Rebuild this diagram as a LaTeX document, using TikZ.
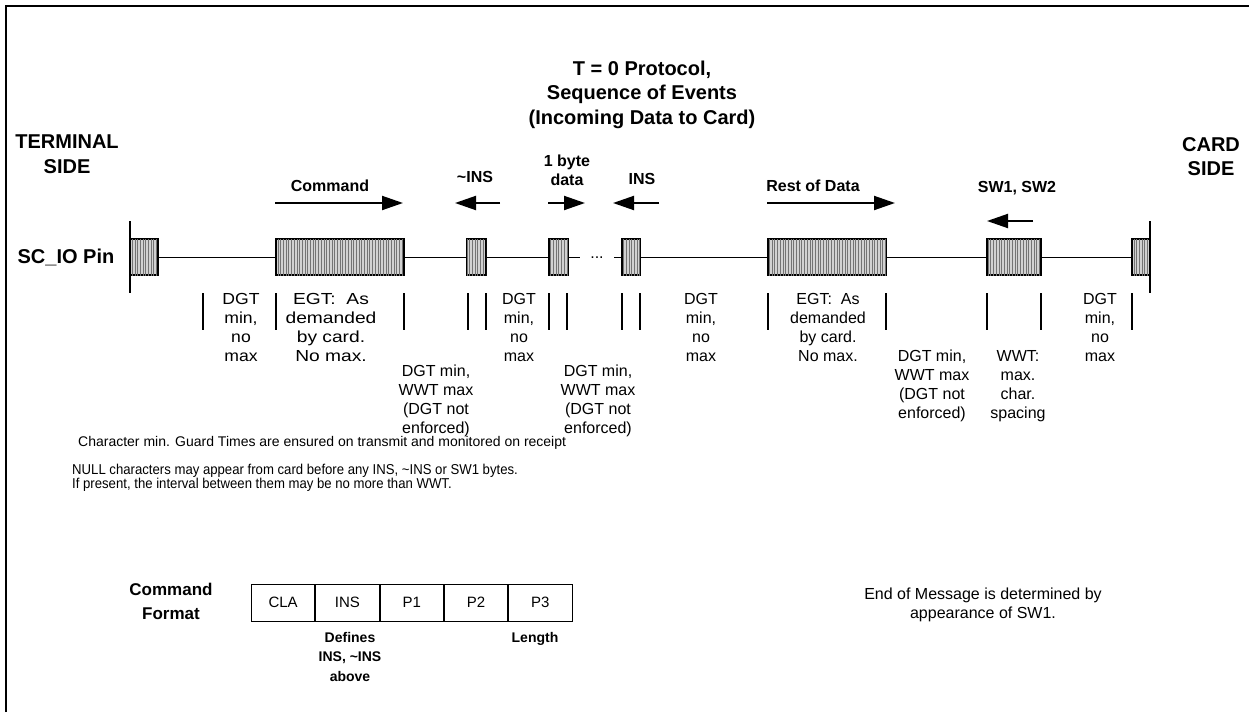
\documentclass[tikz,border=0pt]{standalone}
\usepackage{fontspec}
\setmainfont{Liberation Sans}
\newfontfamily\wideA[FakeStretch=1.2]{Liberation Sans}
\newfontfamily\wideB[FakeStretch=1.1]{Liberation Sans}
\newfontfamily\narrowC[FakeStretch=0.92]{Liberation Sans}
\usetikzlibrary{arrows.meta,patterns.meta}
\tikzset{
  bytebox/.style={draw=black, line width=1.1pt, rectangle, inner sep=0pt,
    minimum height=36pt, fill=black!18,
    postaction={pattern={Lines[angle=90,distance=2.7pt,line width=0.9pt]}, pattern color=black!55}},
  wire/.style={line width=1pt},
  tick/.style={line width=1.2pt},
  dirarrow/.style={line width=2pt, -{Triangle[length=21pt,width=14pt]}},
  timing/.style={font=\fontsize{16}{19}\selectfont, align=center, inner sep=0pt, anchor=north},
  boldlbl/.style={font=\bfseries\fontsize{16}{18.3}\selectfont, align=center, inner sep=0pt},
  sidelbl/.style={font=\bfseries\fontsize{20}{24.5}\selectfont, align=center, inner sep=0pt, anchor=north},
  cell/.style={draw=black, line width=0.9pt, minimum width=63.4pt, minimum height=37pt,
    inner sep=0pt, anchor=west, font=\fontsize{15}{18}\selectfont},
  note/.style={inner sep=0pt, align=left},
}
\begin{document}
\begin{tikzpicture}[x=1pt,y=-1pt]
\fill[white] (0,0) rectangle (1249,712);
\useasboundingbox (0,0) rectangle (1249,712);
% frame
\draw[line width=2pt] (6,712) -- (6,5.7) -- (1249,5.7);

% title and sides
\node[sidelbl] (title) at (642,60.7) {T = 0 Protocol,\\Sequence of Events\\(Incoming Data to Card)};
\node[sidelbl] (term) at (67,135) {TERMINAL\\SIDE};
\node[sidelbl] (card) at (1211,137) {CARD\\SIDE};
\node[font=\bfseries\fontsize{20}{24}\selectfont, inner sep=0pt, anchor=base] (pin) at (66,263) {SC\_IO Pin};

% byte boxes
\node[bytebox, minimum width=28pt] (b0) at (144,257) {};
\node[bytebox, minimum width=128pt] (b1) at (340,257) {};
\node[bytebox, minimum width=19pt] (b2) at (476.5,257) {};
\node[bytebox, minimum width=19pt] (b3) at (558.5,257) {};
\node[bytebox, minimum width=18pt] (b4) at (631,257) {};
\node[bytebox, minimum width=118pt] (b5) at (827,257) {};
\node[bytebox, minimum width=54pt] (b6) at (1014,257) {};
\node[bytebox, minimum width=18pt] (b7) at (1141,257) {};

% wire
\coordinate (w3e) at (580,257);
\coordinate (w4s) at (614,257);
\node[font=\fontsize{16}{19}\selectfont, inner sep=0pt, anchor=base] (dots) at (597,258.5) {...};
\draw[wire] (b0.east) -- (b1.west);
\draw[wire] (b1.east) -- (b2.west);
\draw[wire] (b2.east) -- (b3.west);
\draw[wire] (b3.east) -- (w3e);
\draw[wire] (w4s) -- (b4.west);
\draw[wire] (b4.east) -- (b5.west);
\draw[wire] (b5.east) -- (b6.west);
\draw[wire] (b6.east) -- (b7.west);

% end lines
\coordinate (lt) at (130,221); \coordinate (lb) at (130,293);
\coordinate (rt) at (1150,221); \coordinate (rb) at (1150,293);
\draw[tick] (lt) -- (lb);
\draw[tick] (rt) -- (rb);

% ticks
\foreach \x in {203,276,404,468,486,549,567,622,640,768,886,987,1041,1132}
  \draw[tick] (\x,293) -- (\x,330);

% direction arrows
\coordinate (cmdS) at (275,203); \coordinate (cmdE) at (403,203);
\coordinate (ninsS) at (500,203); \coordinate (ninsE) at (455,203);
\coordinate (byteS) at (548,203); \coordinate (byteE) at (585,203);
\coordinate (insS) at (659,203); \coordinate (insE) at (613,203);
\coordinate (restS) at (767,203); \coordinate (restE) at (895,203);
\coordinate (swS) at (1033,221); \coordinate (swE) at (987,221);
\draw[dirarrow] (cmdS) -- (cmdE);
\draw[dirarrow] (ninsS) -- (ninsE);
\draw[dirarrow] (byteS) -- (byteE);
\draw[dirarrow] (insS) -- (insE);
\draw[dirarrow] (restS) -- (restE);
\draw[dirarrow] (swS) -- (swE);

% arrow labels
\node[boldlbl, anchor=base] (cmd) at (330,191.5) {Command};
\node[boldlbl, anchor=base] (ninsl) at (475,182.5) {\textasciitilde INS};
\node[boldlbl, anchor=north] (bytel) at (567,155) {1 byte\\data};
\node[boldlbl, anchor=base] (insl) at (642,184.5) {INS};
\node[boldlbl, anchor=base] (restl) at (813,191.5) {Rest of Data};
\node[boldlbl, anchor=base] (swl) at (1017,192) {SW1, SW2};

% timing labels
\node[timing, font=\wideB\fontsize{16}{19}\selectfont] (t1) at (241,293) {DGT\\min,\\no\\max};
\node[timing, font=\wideA\fontsize{16}{19}\selectfont] (t2) at (331,293) {EGT:\ \ As\\demanded\\by card.\\No max.};
\node[timing] (t3) at (436,365) {DGT min,\\WWT max\\(DGT not\\enforced)};
\node[timing] (t4) at (519,293) {DGT\\min,\\no\\max};
\node[timing] (t5) at (598,365) {DGT min,\\WWT max\\(DGT not\\enforced)};
\node[timing] (t6) at (701,293) {DGT\\min,\\no\\max};
\node[timing] (t7) at (828,293) {EGT:\ \ As\\demanded\\by card.\\No max.};
\node[timing] (t8) at (932,350) {DGT min,\\WWT max\\(DGT not\\enforced)};
\node[timing] (t9) at (1018,350) {WWT:\\max.\\char.\\spacing};
\node[timing] (t10) at (1100,293) {DGT\\min,\\no\\max};

% notes
\node[note, anchor=base west, font=\fontsize{14}{16}\selectfont] (n1) at (78,446)
  {Character min. Guard Times are ensured on transmit and monitored on receipt};
\node[note, anchor=north west, font=\narrowC\fontsize{14.3}{14}\selectfont] (n2) at (72,463.5)
  {NULL characters may appear from card before any INS, \textasciitilde INS or SW1 bytes.\\If present, the interval between them may be no more than WWT.};

% command format
\node[font=\bfseries\fontsize{17}{23.5}\selectfont, align=center, inner sep=0pt, anchor=north] (cf) at (171,583) {Command\\Format};
\node[cell] (cla) at (251,602.5) {CLA};
\node[cell] (ins) at (cla.east) {INS};
\node[cell] (p1) at (ins.east) {P1};
\node[cell] (p2) at (p1.east) {P2};
\node[cell] (p3) at (p2.east) {P3};
\node[font=\bfseries\fontsize{14}{19.5}\selectfont, align=center, inner sep=0pt, anchor=north] (def) at (350,631.7) {Defines\\INS, \textasciitilde INS\\above};
\node[font=\bfseries\fontsize{14}{19.5}\selectfont, align=center, inner sep=0pt, anchor=north] (len) at (535,631.7) {Length};

% end of message
\node[font=\fontsize{16}{18.5}\selectfont, align=center, inner sep=0pt, anchor=north] (eom) at (983,588) {End of Message is determined by\\appearance of SW1.};
\end{tikzpicture}
\end{document}
